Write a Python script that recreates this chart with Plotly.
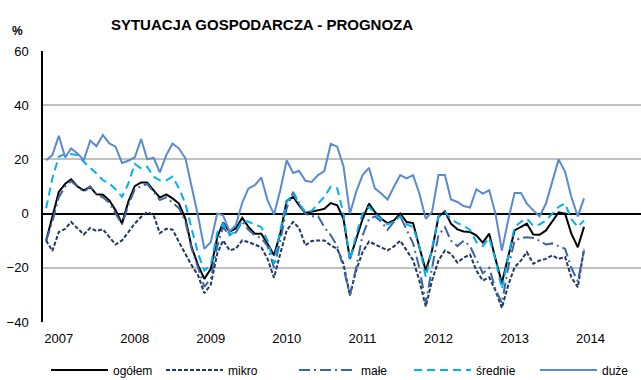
import pandas as pd
import plotly.graph_objects as go

# Monthly survey balance (%), Nov 2006 - Dec 2013
months = pd.date_range("2006-11-01", periods=86, freq="MS")

ogolem = [-10, -1, 8, 11, 12.6, 10, 8.6, 9.9, 7.1, 7, 4.9, 1.2, -3.7, 4.3, 10.1, 11.5,
          11.5, 8.6, 5.9, 7.1, 5.6, 3.7, -1.9, -12.4, -19.1, -24.1, -20.4, -8.7, -3.3, -6.7,
          -5.5, -1.6, -4.9, -7.4, -7.4, -11.1, -15.4, -7.4, 4.7, 6.2, 3.1, 0.2, 0.6, 1.2,
          1.8, 3.9, 3.1, -1.9, -16.7, -9, -2, 3.7, 0.6, -1.9, -3.5, -2.5, 0, -3.1, -3.5,
          -12.4, -21, -13.6, -1.2, 0.8, -3.7, -5.8, -6.6, -6.8, -8, -10.7, -7.4, -16.7,
          -25.6, -16, -6.2, -4.9, -3.7, -7.7, -7.8, -6.2, -3.1, 0.5, 0, -7.4, -12.4, -4.9]

mikro = [-9.9, -13.8, -6.8, -5.6, -3.1, -5.6, -7.7, -5.3, -6.4, -5.8, -8.7, -11.4, -9.9,
         -6.8, -3.7, -1.2, 0.6, -0.6, -7.2, -5.6, -5.9, -10.5, -14.8, -19.1, -22.8, -29.4,
         -26.2, -14.8, -9.9, -13.5, -13, -9.9, -10.5, -11.4, -12.4, -16.7, -23.7, -14.8,
         -6.2, -3.1, -5.2, -11.7, -10.1, -9.9, -9.9, -11.7, -13, -18.5, -30.2, -21, -14.2,
         -10.3, -11.4, -12.6, -13.6, -12.1, -10, -13.6, -17.2, -24.7, -34.3, -24.7, -17.3,
         -13.6, -14.8, -18.1, -16.3, -15.1, -21, -24.7, -23.5, -28.4, -34.8, -26.5, -19.8,
         -17.3, -14.2, -18.5, -17.3, -16.7, -15.4, -16.7, -16, -23.5, -27.2, -13]

male = [-10, -3, 6, 10, 12, 10, 8, 10, 7, 6, 4, 0, -4, 3, 9, 10, 11, 8, 5, 6, 4, 2, -3,
        -13, -20, -27, -24, -12, -5, -8, -7, -3, -6, -8, -9, -12, -20, -10, 2, 8, 4, 0, -1,
        -1, -5, -8, -12, -20, -30, -20, -8, -2, -1, -3, -6, -3, -1, -6, -11, -20, -33, -20,
        -8, -5, -10, -12, -10, -12, -17, -22, -20, -28, -33, -20, -10, -9, -8.7, -9, -10,
        -11.4, -11, -12, -13, -20, -25, -13.6]

srednie = [2, 13, 21, 22, 22, 21.6, 19.1, 17, 14.8, 12.3, 11.1, 9, 6.2, 11, 18.3, 16.7,
           17.3, 13.6, 12.3, 12.3, 13.6, 9.3, 3.7, -5.6, -14.8, -21, -19.1, -7, -3.7, -7.7,
           -6.8, -2.5, -3, -4, -5, -10, -18.5, -6.2, 4.4, 7.4, 3.7, 0.6, 1, 3.7, 6.2, 9.9,
           9.3, 0, -17.3, -8, 0, 2.5, 0, -2, -4, -3, -1, -4, -5, -12, -23.5, -13, -1, 0.6,
           -2, -3.5, -4.5, -6, -10.5, -12, -9, -17, -27.8, -16, -5, -3, -1.9, -4.5, -4,
           -2.5, 0, 2.5, 3.7, -2, -4.9, -2.5]

duze = [19.7, 21.6, 28.7, 20.7, 24, 22.2, 19.7, 26.9, 24.9, 29, 25.9, 24.7, 18.7, 19.5,
        20.7, 27.5, 20, 20.6, 15.2, 21.6, 25.9, 24, 20.4, 10, -1, -13, -10.5, 0, -0.6,
        -6.6, -4.3, 4, 9.3, 10.5, 13.3, 4.9, -0.3, 8.6, 19.7, 15, 15.8, 12.1, 11.7, 14.2,
        15.7, 25.7, 24.7, 17.5, 0, 8, 14.2, 16.9, 9.3, 7.4, 5.2, 9.9, 14.2, 13, 14.2, 7.4,
        -1.9, 0.6, 14.2, 14.2, 5.2, 4.3, 2.8, 2.2, 9, 7.4, 8.6, 0, -13.6, -2.5, 7.6, 7.6,
        3.7, 1.2, -1, 3.7, 11.7, 20, 15.4, 6.1, -1, 5.6]

year_ticks = pd.date_range("2007-01-01", "2014-01-01", freq="YS")
year_labels = [str(d.year) for d in year_ticks]

# name, values, colour, dash, legend id, legend key left edge (px)
series = [
    ("ogółem", ogolem, "#000000", "solid", "legend", 51),
    ("mikro", mikro, "#1F3864", "4px,2px", "legend2", 166),
    ("małe", male, "#3D65A0", "11px,4px,2px,4px", "legend3", 299),
    ("średnie", srednie, "#00B0F0", "8px,5px", "legend4", 414),
    ("duże", duze, "#5A8AD2", "solid", "legend5", 540),
]

W, H = 641, 380
font_family = "Liberation Sans, Arial, sans-serif"

fig = go.Figure()
legend_layouts = {}
for name, vals, color, dash, leg, key_x in series:
    fig.add_trace(go.Scatter(
        x=months, y=vals, name=name, mode="lines", legend=leg,
        line=dict(color=color, width=2, dash=dash),
    ))
    legend_layouts[leg] = dict(
        orientation="h", xref="container", yref="container",
        x=(key_x - 5) / W, xanchor="left", y=1 - 370 / H, yanchor="middle",
        font=dict(size=12), itemwidth=57, bgcolor="rgba(0,0,0,0)",
    )

fig.update_layout(
    width=W, height=H,
    margin=dict(l=43, r=0, t=51, b=58, autoexpand=False),
    paper_bgcolor="white", plot_bgcolor="white",
    font=dict(family=font_family, size=13, color="#000000"),
    title=dict(text="<b>SYTUACJA GOSPODARCZA - PROGNOZA</b>",
               x=262 / W, xanchor="center", y=1 - 25 / H, yanchor="middle",
               font=dict(size=15, family=font_family)),
    showlegend=True,
    annotations=[dict(text="<b>%</b>", xref="paper", yref="paper",
                      x=(17 - 43) / (W - 43), y=1 + (51 - 31) / 271,
                      xanchor="center", yanchor="middle",
                      showarrow=False, font=dict(size=12))],
    **legend_layouts,
)

fig.update_xaxes(
    type="date", range=["2006-10-17", "2014-09-01"],
    tickvals=year_ticks, ticktext=year_labels, ticks="",
    showgrid=False, showline=False, zeroline=False,
    ticklabelstandoff=7,
)
fig.update_yaxes(
    range=[-40, 60], dtick=20, tick0=0,
    showgrid=True, gridcolor="#C0C0C0", gridwidth=1.5,
    zeroline=True, zerolinecolor="#000000", zerolinewidth=1.5,
    showline=True, linecolor="#000000", linewidth=1.5,
    ticks="", ticklabelstandoff=10,
)

fig.write_html("out.html")
